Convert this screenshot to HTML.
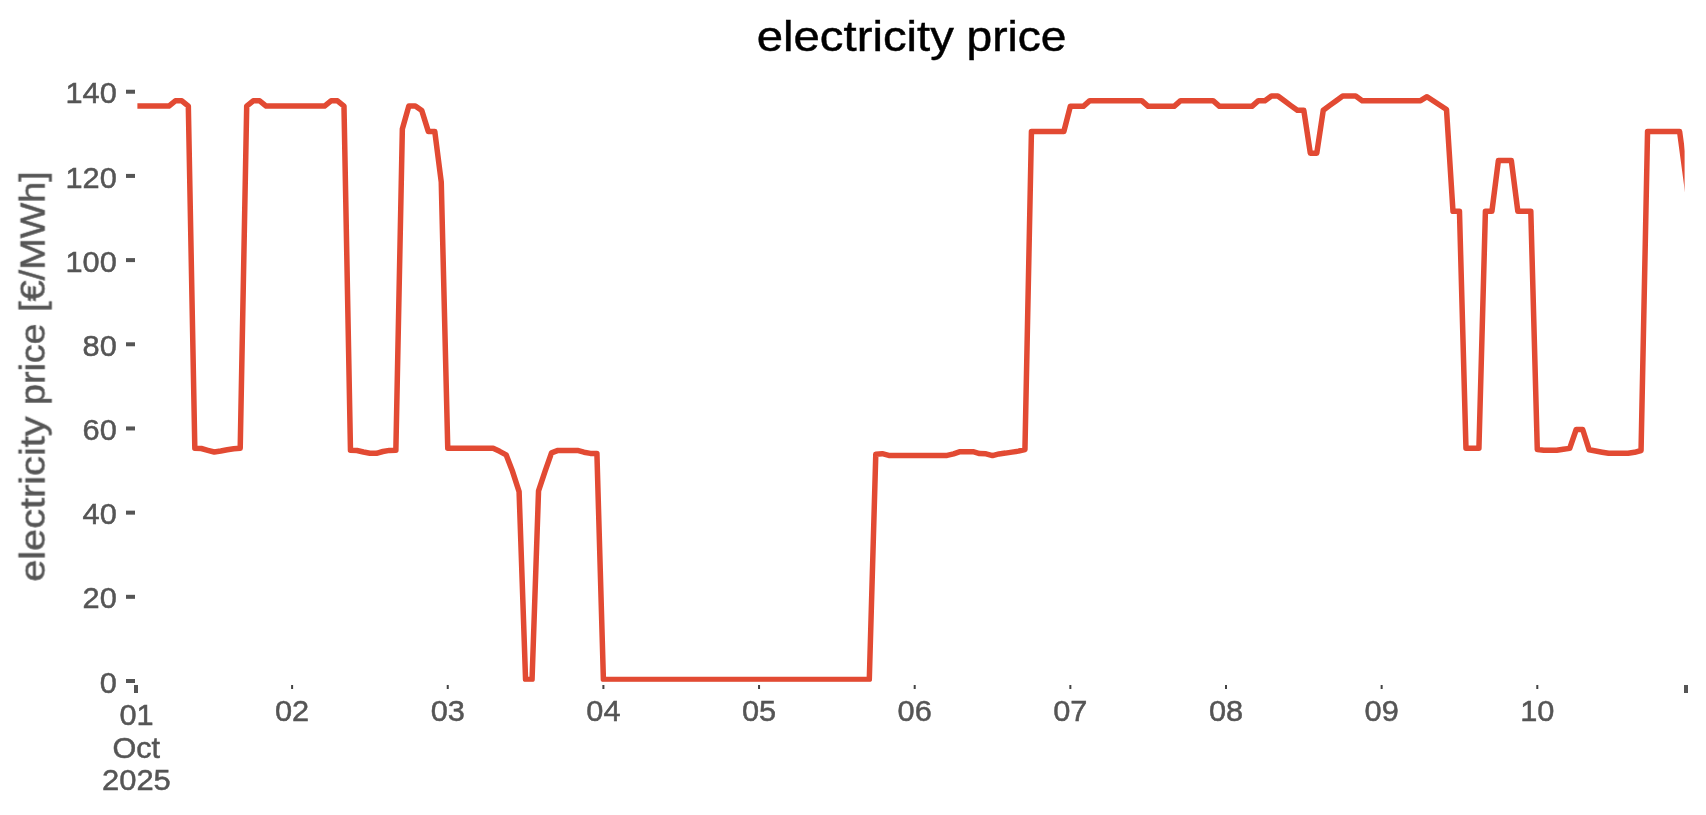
<!DOCTYPE html>
<html><head><meta charset="utf-8"><title>electricity price</title>
<style>
html,body{margin:0;padding:0;background:#ffffff;}
body{width:1706px;height:815px;overflow:hidden;}
svg{display:block;}
text{font-family:"Liberation Sans",sans-serif;}
</style></head><body>
<svg width="1706" height="815" viewBox="0 0 1706 815">
<rect x="0" y="0" width="1706" height="815" fill="#ffffff"/>
<defs><filter id="g" x="-5%" y="-5%" width="110%" height="110%" color-interpolation-filters="sRGB"><feOffset dx="0" dy="0"/></filter><clipPath id="ax"><rect x="136" y="71" width="1550" height="612.2"/></clipPath></defs>
<path clip-path="url(#ax)" d="M136.45,106.10 L142.94,106.10 L149.42,106.10 L155.91,106.10 L162.39,106.10 L168.88,106.10 L175.36,100.80 L181.85,100.80 L188.33,106.10 L194.82,448.20 L201.30,448.50 L207.79,450.30 L214.27,452.00 L220.76,451.00 L227.25,449.80 L233.73,448.80 L240.22,448.20 L246.70,106.10 L253.19,100.80 L259.67,100.80 L266.16,106.10 L272.64,106.10 L279.13,106.10 L285.61,106.10 L292.10,106.10 L298.59,106.10 L305.07,106.10 L311.56,106.10 L318.04,106.10 L324.53,106.10 L331.01,100.80 L337.50,100.80 L343.98,106.10 L350.47,450.30 L356.95,450.50 L363.44,452.00 L369.92,453.30 L376.41,453.30 L382.90,451.50 L389.38,450.40 L395.87,450.20 L402.35,129.00 L408.84,106.10 L415.32,106.10 L421.81,110.60 L428.29,131.40 L434.78,131.40 L441.26,182.00 L447.75,448.30 L454.23,448.30 L460.72,448.30 L467.21,448.30 L473.69,448.30 L480.18,448.30 L486.66,448.30 L493.15,448.30 L499.63,451.30 L506.12,454.80 L512.60,471.60 L519.09,491.60 L525.57,679.50 L532.06,679.50 L538.54,490.90 L545.03,471.30 L551.52,452.90 L558.00,450.40 L564.49,450.40 L570.97,450.40 L577.46,450.40 L583.94,452.20 L590.43,453.40 L596.91,453.40 L603.40,679.50 L609.88,679.50 L616.37,679.50 L622.86,679.50 L629.34,679.50 L635.83,679.50 L642.31,679.50 L648.80,679.50 L655.28,679.50 L661.77,679.50 L668.25,679.50 L674.74,679.50 L681.22,679.50 L687.71,679.50 L694.19,679.50 L700.68,679.50 L707.17,679.50 L713.65,679.50 L720.14,679.50 L726.62,679.50 L733.11,679.50 L739.59,679.50 L746.08,679.50 L752.56,679.50 L759.05,679.50 L765.53,679.50 L772.02,679.50 L778.50,679.50 L784.99,679.50 L791.48,679.50 L797.96,679.50 L804.45,679.50 L810.93,679.50 L817.42,679.50 L823.90,679.50 L830.39,679.50 L836.87,679.50 L843.36,679.50 L849.84,679.50 L856.33,679.50 L862.81,679.50 L869.30,679.50 L875.79,454.20 L882.27,453.70 L888.76,455.40 L895.24,455.40 L901.73,455.40 L908.21,455.40 L914.70,455.40 L921.18,455.40 L927.67,455.40 L934.15,455.40 L940.64,455.40 L947.12,455.40 L953.61,453.90 L960.10,451.70 L966.58,451.70 L973.07,451.70 L979.55,453.60 L986.04,453.80 L992.52,455.60 L999.01,453.90 L1005.49,453.10 L1011.98,452.10 L1018.46,451.10 L1024.95,449.50 L1031.44,131.55 L1037.92,131.55 L1044.41,131.55 L1050.89,131.55 L1057.38,131.55 L1063.86,131.55 L1070.35,106.30 L1076.83,106.30 L1083.32,106.30 L1089.80,100.70 L1096.29,100.70 L1102.77,100.70 L1109.26,100.70 L1115.75,100.70 L1122.23,100.70 L1128.72,100.70 L1135.20,100.70 L1141.69,100.70 L1148.17,106.30 L1154.66,106.30 L1161.14,106.30 L1167.63,106.30 L1174.11,106.30 L1180.60,100.70 L1187.08,100.70 L1193.57,100.70 L1200.06,100.70 L1206.54,100.70 L1213.03,100.70 L1219.51,106.30 L1226.00,106.30 L1232.48,106.30 L1238.97,106.30 L1245.45,106.30 L1251.94,106.30 L1258.42,100.70 L1264.91,100.70 L1271.39,96.10 L1277.88,96.10 L1284.37,100.80 L1290.85,105.60 L1297.34,110.30 L1303.82,110.30 L1310.31,153.20 L1316.79,153.20 L1323.28,110.20 L1329.76,105.40 L1336.25,100.70 L1342.73,96.10 L1349.22,96.10 L1355.71,96.10 L1362.19,100.70 L1368.68,100.70 L1375.16,100.70 L1381.65,100.70 L1388.13,100.70 L1394.62,100.70 L1401.10,100.70 L1407.59,100.70 L1414.07,100.70 L1420.56,100.70 L1427.04,96.70 L1433.53,101.00 L1440.02,105.20 L1446.50,109.50 L1452.99,211.30 L1459.47,211.30 L1465.96,448.20 L1472.44,448.20 L1478.93,448.20 L1485.41,211.30 L1491.90,211.30 L1498.38,160.60 L1504.87,160.60 L1511.35,160.60 L1517.84,211.30 L1524.33,211.30 L1530.81,211.30 L1537.30,449.60 L1543.78,450.30 L1550.27,450.30 L1556.75,450.30 L1563.24,449.30 L1569.72,448.40 L1576.21,429.50 L1582.69,429.50 L1589.18,449.80 L1595.67,451.00 L1602.15,452.20 L1608.64,453.30 L1615.12,453.30 L1621.61,453.30 L1628.09,453.30 L1634.58,452.30 L1641.06,450.50 L1647.55,131.50 L1654.03,131.50 L1660.52,131.50 L1667.00,131.50 L1673.49,131.50 L1679.60,131.50 L1688.20,195.70" fill="none" stroke="#E24A33" stroke-width="5.5" stroke-linejoin="round" stroke-linecap="butt"/>
<rect x="136" y="71" width="1550" height="612.2" fill="none" stroke="#ffffff" stroke-width="2.8"/>
<rect x="126" y="679.00" width="9" height="4" fill="#555555"/>
<text filter="url(#g)" x="116.8" y="692.60" font-size="30.1" stroke="#555555" stroke-width="0.5" fill="#555555" text-anchor="end" textLength="17.1" lengthAdjust="spacingAndGlyphs">0</text>
<rect x="126" y="594.82" width="9" height="4" fill="#555555"/>
<text filter="url(#g)" x="116.8" y="608.42" font-size="30.1" stroke="#555555" stroke-width="0.5" fill="#555555" text-anchor="end" textLength="34.2" lengthAdjust="spacingAndGlyphs">20</text>
<rect x="126" y="510.64" width="9" height="4" fill="#555555"/>
<text filter="url(#g)" x="116.8" y="524.24" font-size="30.1" stroke="#555555" stroke-width="0.5" fill="#555555" text-anchor="end" textLength="34.2" lengthAdjust="spacingAndGlyphs">40</text>
<rect x="126" y="426.46" width="9" height="4" fill="#555555"/>
<text filter="url(#g)" x="116.8" y="440.06" font-size="30.1" stroke="#555555" stroke-width="0.5" fill="#555555" text-anchor="end" textLength="34.2" lengthAdjust="spacingAndGlyphs">60</text>
<rect x="126" y="342.28" width="9" height="4" fill="#555555"/>
<text filter="url(#g)" x="116.8" y="355.88" font-size="30.1" stroke="#555555" stroke-width="0.5" fill="#555555" text-anchor="end" textLength="34.2" lengthAdjust="spacingAndGlyphs">80</text>
<rect x="126" y="258.10" width="9" height="4" fill="#555555"/>
<text filter="url(#g)" x="116.8" y="271.70" font-size="30.1" stroke="#555555" stroke-width="0.5" fill="#555555" text-anchor="end" textLength="51.3" lengthAdjust="spacingAndGlyphs">100</text>
<rect x="126" y="173.92" width="9" height="4" fill="#555555"/>
<text filter="url(#g)" x="116.8" y="187.52" font-size="30.1" stroke="#555555" stroke-width="0.5" fill="#555555" text-anchor="end" textLength="51.3" lengthAdjust="spacingAndGlyphs">120</text>
<rect x="126" y="89.74" width="9" height="4" fill="#555555"/>
<text filter="url(#g)" x="116.8" y="103.34" font-size="30.1" stroke="#555555" stroke-width="0.5" fill="#555555" text-anchor="end" textLength="51.3" lengthAdjust="spacingAndGlyphs">140</text>
<rect x="134" y="685" width="4" height="8" fill="#555555"/>
<rect x="1684" y="685" width="4" height="8" fill="#555555"/>
<rect x="291.10" y="685" width="2" height="4" fill="#444444"/>
<text filter="url(#g)" x="292.10" y="720.5" font-size="30.1" stroke="#555555" stroke-width="0.5" fill="#555555" text-anchor="middle" textLength="34.2" lengthAdjust="spacingAndGlyphs">02</text>
<rect x="446.75" y="685" width="2" height="4" fill="#444444"/>
<text filter="url(#g)" x="447.75" y="720.5" font-size="30.1" stroke="#555555" stroke-width="0.5" fill="#555555" text-anchor="middle" textLength="34.2" lengthAdjust="spacingAndGlyphs">03</text>
<rect x="602.40" y="685" width="2" height="4" fill="#444444"/>
<text filter="url(#g)" x="603.40" y="720.5" font-size="30.1" stroke="#555555" stroke-width="0.5" fill="#555555" text-anchor="middle" textLength="34.2" lengthAdjust="spacingAndGlyphs">04</text>
<rect x="758.05" y="685" width="2" height="4" fill="#444444"/>
<text filter="url(#g)" x="759.05" y="720.5" font-size="30.1" stroke="#555555" stroke-width="0.5" fill="#555555" text-anchor="middle" textLength="34.2" lengthAdjust="spacingAndGlyphs">05</text>
<rect x="913.70" y="685" width="2" height="4" fill="#444444"/>
<text filter="url(#g)" x="914.70" y="720.5" font-size="30.1" stroke="#555555" stroke-width="0.5" fill="#555555" text-anchor="middle" textLength="34.2" lengthAdjust="spacingAndGlyphs">06</text>
<rect x="1069.35" y="685" width="2" height="4" fill="#444444"/>
<text filter="url(#g)" x="1070.35" y="720.5" font-size="30.1" stroke="#555555" stroke-width="0.5" fill="#555555" text-anchor="middle" textLength="34.2" lengthAdjust="spacingAndGlyphs">07</text>
<rect x="1225.00" y="685" width="2" height="4" fill="#444444"/>
<text filter="url(#g)" x="1226.00" y="720.5" font-size="30.1" stroke="#555555" stroke-width="0.5" fill="#555555" text-anchor="middle" textLength="34.2" lengthAdjust="spacingAndGlyphs">08</text>
<rect x="1380.65" y="685" width="2" height="4" fill="#444444"/>
<text filter="url(#g)" x="1381.65" y="720.5" font-size="30.1" stroke="#555555" stroke-width="0.5" fill="#555555" text-anchor="middle" textLength="34.2" lengthAdjust="spacingAndGlyphs">09</text>
<rect x="1536.30" y="685" width="2" height="4" fill="#444444"/>
<text filter="url(#g)" x="1537.30" y="720.5" font-size="30.1" stroke="#555555" stroke-width="0.5" fill="#555555" text-anchor="middle" textLength="34.2" lengthAdjust="spacingAndGlyphs">10</text>
<text filter="url(#g)" x="136.5" y="724.5" font-size="30.1" stroke="#555555" stroke-width="0.5" fill="#555555" text-anchor="middle" textLength="34.2" lengthAdjust="spacingAndGlyphs">01</text>
<text filter="url(#g)" x="136.2" y="757.6" font-size="30.1" stroke="#555555" stroke-width="0.5" fill="#555555" text-anchor="middle" textLength="47.6" lengthAdjust="spacingAndGlyphs">Oct</text>
<text filter="url(#g)" x="136.4" y="789.8" font-size="30.1" stroke="#555555" stroke-width="0.5" fill="#555555" text-anchor="middle" textLength="68.8" lengthAdjust="spacingAndGlyphs">2025</text>
<text filter="url(#g)" x="756.8" y="51" font-size="43.3" fill="#000000" stroke="#000000" stroke-width="0.45" text-anchor="start" textLength="197.0" lengthAdjust="spacingAndGlyphs">electricity</text>
<text filter="url(#g)" x="966.5" y="51" font-size="43.3" fill="#000000" stroke="#000000" stroke-width="0.45" text-anchor="start" textLength="100.0" lengthAdjust="spacingAndGlyphs">price</text>
<text filter="url(#g)" transform="translate(44.6,581.7) rotate(-90)" font-size="35.3" fill="#555555" stroke="#555555" stroke-width="0.5" text-anchor="start" textLength="165.3" lengthAdjust="spacingAndGlyphs">electricity</text>
<text filter="url(#g)" transform="translate(44.6,404.9) rotate(-90)" font-size="35.3" fill="#555555" stroke="#555555" stroke-width="0.5" text-anchor="start" textLength="81.5" lengthAdjust="spacingAndGlyphs">price</text>
<text filter="url(#g)" transform="translate(44.6,311.8) rotate(-90)" font-size="35.3" fill="#555555" stroke="#555555" stroke-width="0.5" text-anchor="start" textLength="140.6" lengthAdjust="spacingAndGlyphs">[€/MWh]</text>
</svg></body></html>
